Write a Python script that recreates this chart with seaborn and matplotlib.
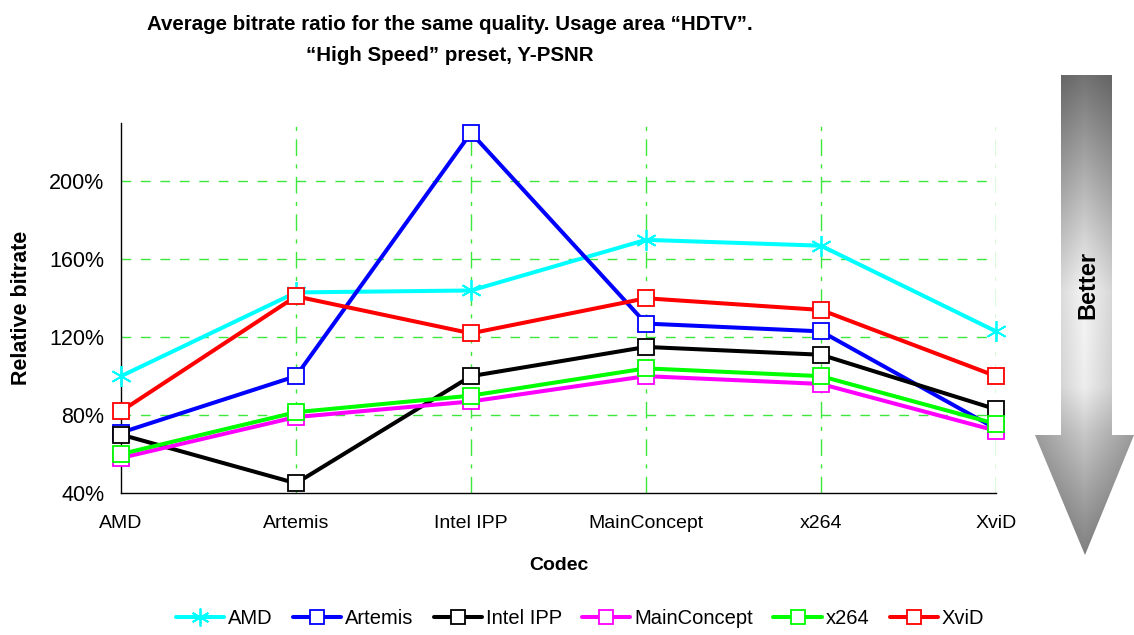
import numpy as np
import pandas as pd
import matplotlib
matplotlib.use("Agg")
import matplotlib.pyplot as plt
from matplotlib.patches import Polygon
from matplotlib.lines import Line2D
import seaborn as sns

# codecs on the x axis
codecs = ["AMD", "Artemis", "Intel IPP", "MainConcept", "x264", "XviD"]

# relative bitrate (%) for each reference codec
amd = [100, 143, 144, 170, 167, 123]
artemis = [71, 100, 225, 127, 123, 73]
intel_ipp = [70, 45, 100, 115, 111, 83]
mainconcept = [58, 79, 87, 100, 96, 72]
x264 = [60, 81.5, 90, 104, 100, 75.5]
xvid = [82, 141, 122, 140, 134, 100]

series_names = ["AMD", "Artemis", "Intel IPP", "MainConcept", "x264", "XviD"]
series_values = [amd, artemis, intel_ipp, mainconcept, x264, xvid]
colors = ["#00FFFF", "#0000FF", "#000000", "#FF00FF", "#00FF00", "#FF0000"]

sns.set_theme(style="white")
plt.rcParams["font.family"] = ["Liberation Sans", "DejaVu Sans"]
plt.rcParams["text.color"] = "#000000"
plt.rcParams["axes.labelcolor"] = "#000000"

fig = plt.figure(figsize=(11.34, 6.35), dpi=100)
ax = fig.add_axes([121 / 1134, 1 - 493 / 635, (996 - 121) / 1134, (493 - 123) / 635])

for name, vals, col in zip(series_names, series_values, colors):
    df = pd.DataFrame({"Codec": codecs, "Relative bitrate": vals})
    if name == "AMD":
        mk = dict(marker=(6, 2, 0), markersize=15, markeredgewidth=1.3,
                  markeredgecolor=col, markerfacecolor=col)
    else:
        mk = dict(marker="s", markersize=11.5, markeredgewidth=1.3,
                  markeredgecolor=col, markerfacecolor="white")
    sns.lineplot(data=df, x="Codec", y="Relative bitrate", color=col,
                 linewidth=2.9, ax=ax, sort=False, zorder=3, clip_on=False, **mk)

ax.set_xlim(0, 5)
ax.set_ylim(40, 230)
ax.set_yticks([40, 80, 120, 160, 200])
ax.set_yticklabels(["40%", "80%", "120%", "160%", "200%"])
ax.set_xticks(range(len(codecs)))
ax.set_xticklabels(codecs)

ax.tick_params(axis="both", direction="in", length=6, width=1, colors="#000000")
ax.tick_params(axis="x", labelsize=14, pad=16)
ax.tick_params(axis="y", labelsize=15.5, pad=12)
for s in ["top", "right"]:
    ax.spines[s].set_visible(False)
for s in ["left", "bottom"]:
    ax.spines[s].set_color("#000000")
    ax.spines[s].set_linewidth(1)

# green dashed grid
for y in [80, 120, 160, 200]:
    ax.axhline(y, color="#3CE83C", lw=1.0, ls=(0, (7, 7)), zorder=1)
for x in range(1, 6):
    ax.axvline(x, color="#3CE83C", lw=1.0, ls=(0, (12, 6, 3, 6)), zorder=1)

ax.set_xlabel("Codec", fontsize=14, fontweight="bold", labelpad=18)
ax.set_ylabel("Relative bitrate", fontsize=15.5, fontweight="bold", labelpad=12)

fig.text(450 / 1134, 1 - 40 / 635,
         "Average bitrate ratio for the same quality. Usage area \u201cHDTV\u201d.\n"
         "\u201cHigh Speed\u201d preset, Y-PSNR",
         ha="center", va="center", fontsize=14.8, fontweight="bold", linespacing=1.85)

handles = []
for name, col in zip(series_names, colors):
    if name == "AMD":
        h = Line2D([], [], color=col, lw=2.9, marker=(6, 2, 0), markersize=13,
                   markeredgecolor=col, markerfacecolor=col, markeredgewidth=1.3)
    else:
        h = Line2D([], [], color=col, lw=2.9, marker="s", markersize=10,
                   markeredgecolor=col, markerfacecolor="white", markeredgewidth=1.3)
    handles.append(h)
fig.legend(handles, series_names, loc="center", bbox_to_anchor=(580 / 1134, 1 - 619 / 635),
           ncol=6, frameon=False, fontsize=14.5, handlelength=2.4, handletextpad=0.2,
           columnspacing=1.0)

# "Better" gradient arrow on the right
aax = fig.add_axes([0, 0, 1, 1], zorder=-1)
aax.set_xlim(0, 1134)
aax.set_ylim(635, 0)
aax.axis("off")
yy = np.linspace(0, 1, 300)[:, None]
xx = np.linspace(0, 1, 120)[None, :]
vert = np.interp(yy, [0, 0.45, 0.65, 0.75, 1], [0.45, 0.96, 0.93, 0.78, 0.5])
horiz = 1 - 0.22 * np.abs(xx - 0.5) * 2
shade = vert * horiz
img = aax.imshow(shade, cmap="gray", vmin=0, vmax=1, extent=[1035, 1134, 555, 75],
                 aspect="auto", interpolation="bilinear")
arrow = Polygon([(1061, 75), (1112, 75), (1112, 435), (1134, 435), (1085, 555),
                 (1035, 435), (1061, 435)], closed=True, transform=aax.transData,
                facecolor="none", edgecolor="none")
aax.add_patch(arrow)
img.set_clip_path(arrow)
aax.text(1088, 285, "Better", rotation=90, ha="center", va="center",
         fontsize=17, fontweight="bold", color="#000000")

fig.savefig("out.png", dpi=100)
